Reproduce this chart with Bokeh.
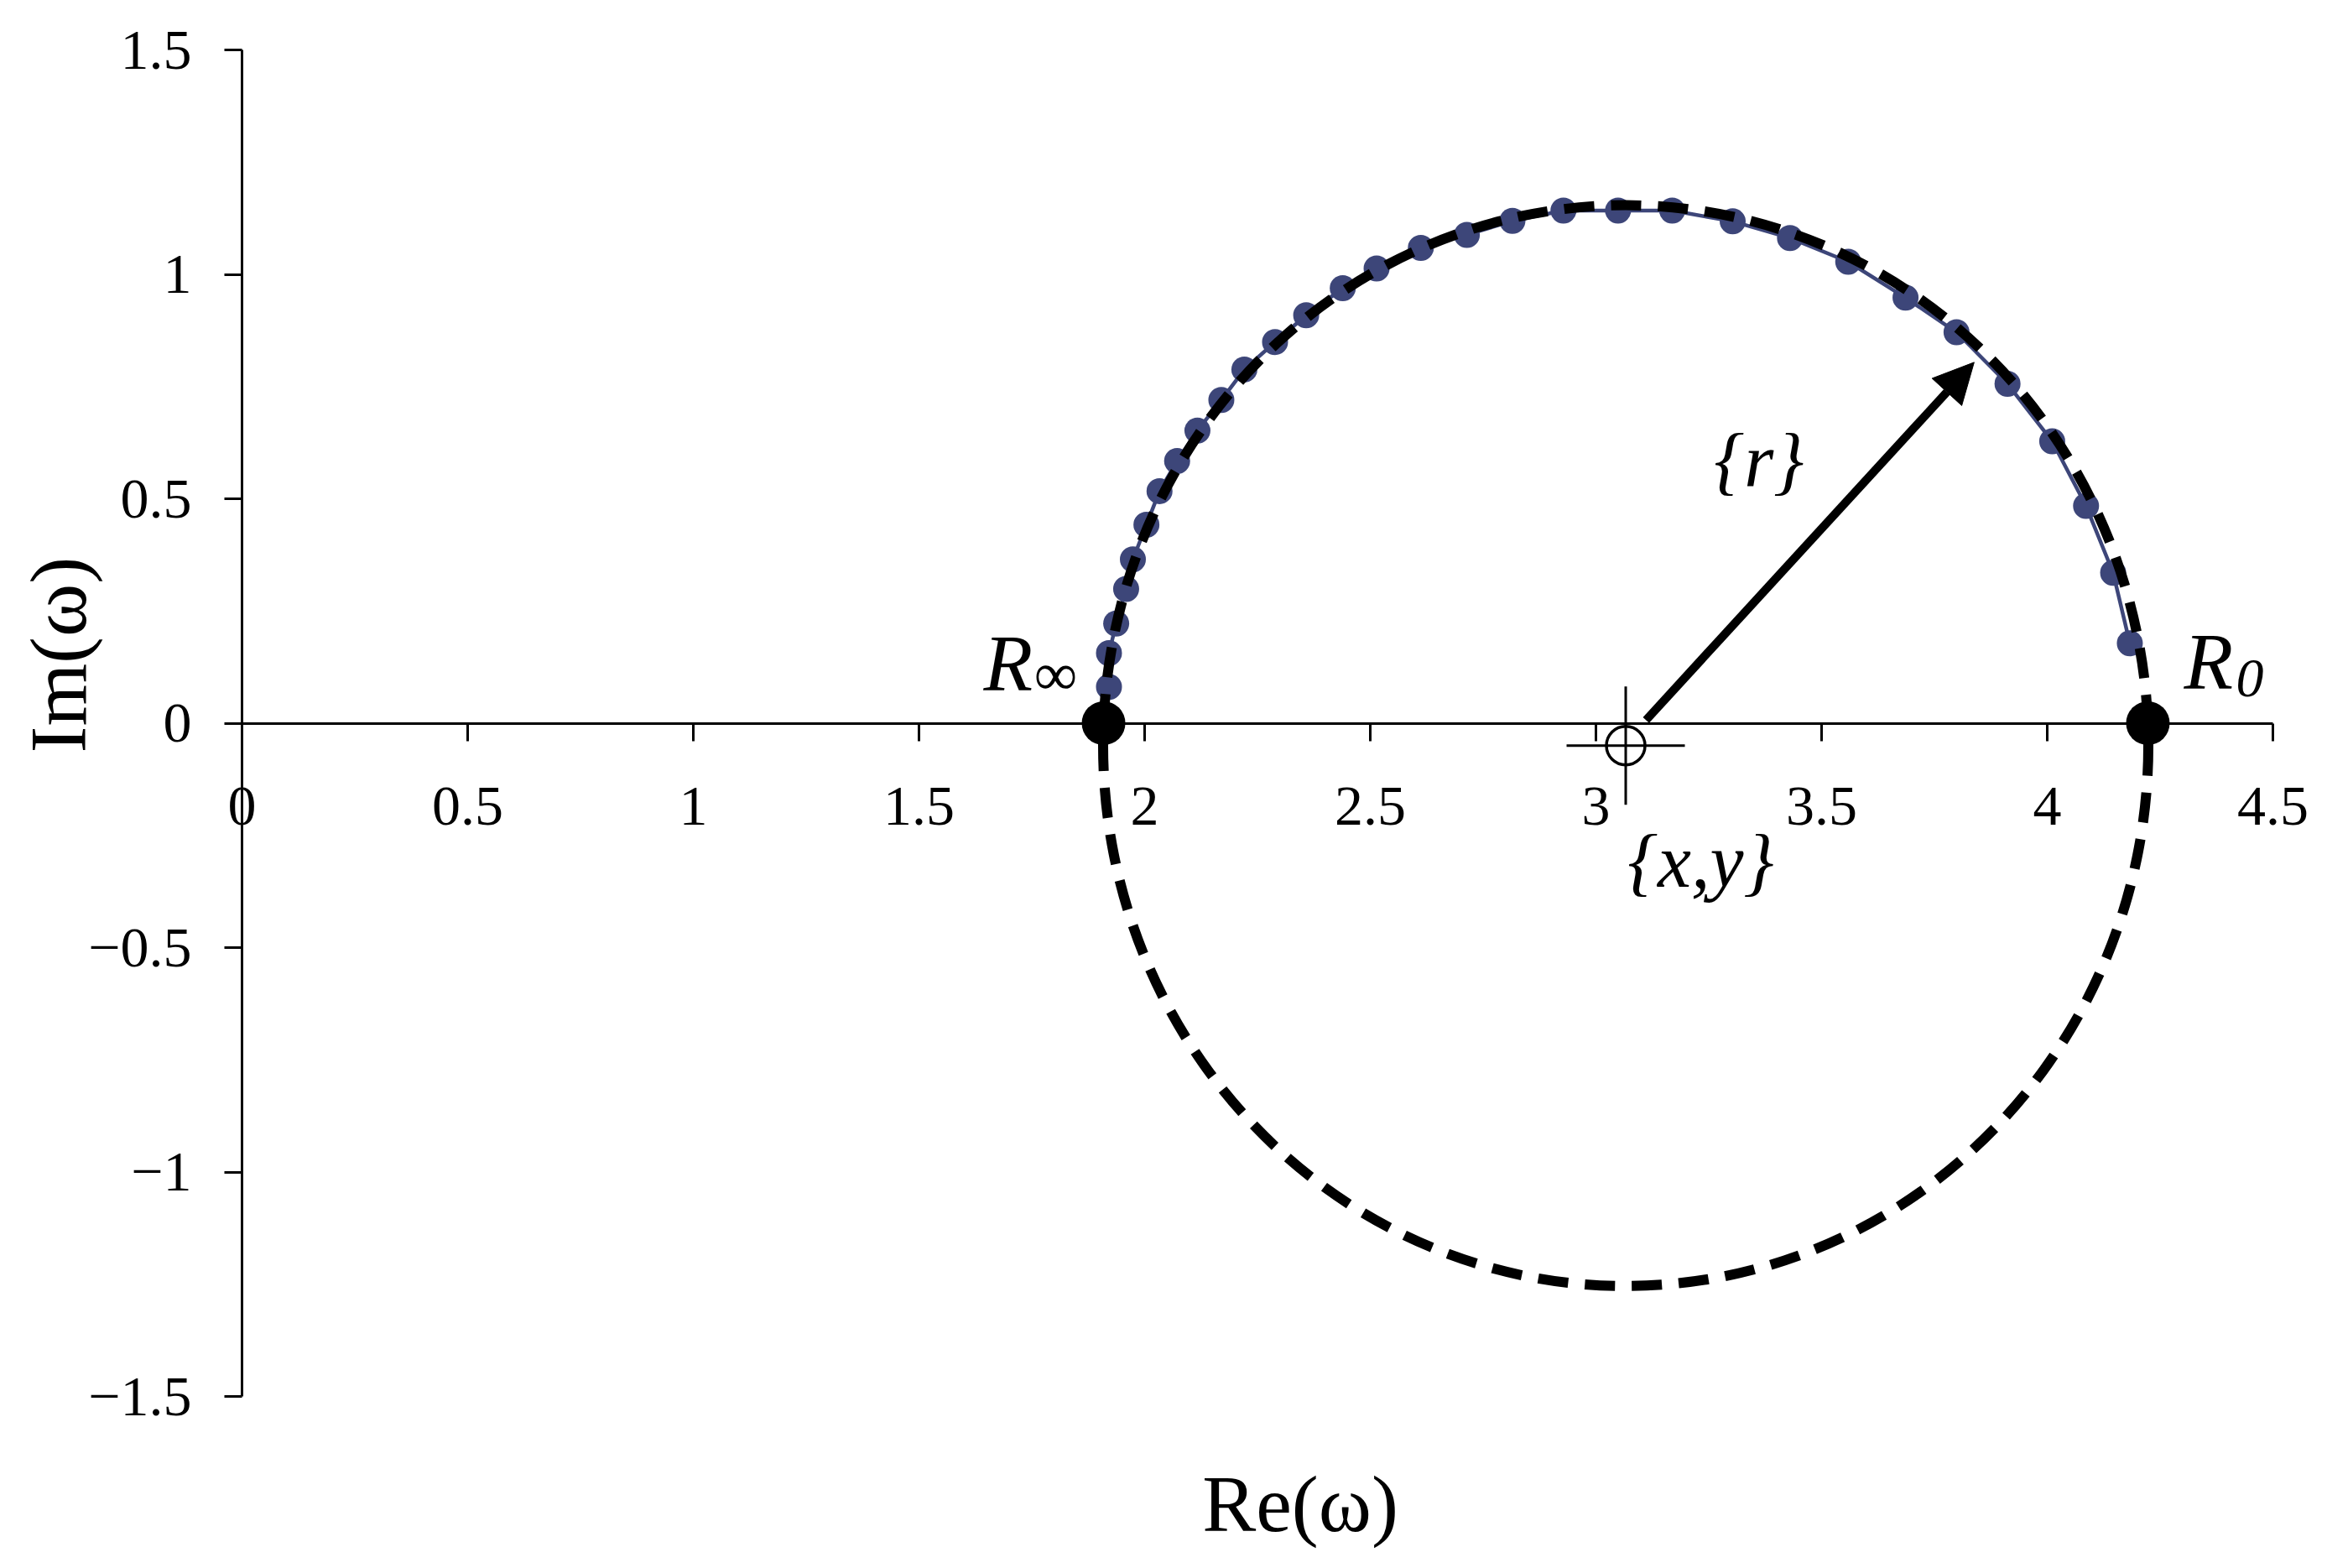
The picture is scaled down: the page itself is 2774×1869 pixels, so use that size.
import math
from bokeh.plotting import figure
from bokeh.models import Range1d, FixedTicker, Label, Arrow, NormalHead
from bokeh.embed import file_html
from bokeh.resources import INLINE

# ---- data ----
re_data = [1.921, 1.921, 1.937, 1.959, 1.974, 2.004, 2.033, 2.072, 2.117, 2.170,
           2.221, 2.289, 2.358, 2.439, 2.514, 2.612, 2.714, 2.815, 2.928, 3.049,
           3.169, 3.303, 3.430, 3.559, 3.686, 3.799, 3.912, 4.011, 4.086, 4.146, 4.183]
im_data = [0.081, 0.156, 0.222, 0.299, 0.365, 0.442, 0.517, 0.584, 0.652, 0.720,
           0.788, 0.849, 0.909, 0.969, 1.013, 1.059, 1.088, 1.119, 1.142, 1.142,
           1.142, 1.118, 1.081, 1.028, 0.948, 0.871, 0.756, 0.628, 0.484, 0.335, 0.178]

r_points_x = [1.909, 4.223]   # R_inf, R_0
r_points_y = [0.0, 0.0]

fit_center_x = [3.066]
fit_center_y = [-0.050]
fit_width = [2.316]
fit_height = [2.408]

radius_start = [3.111, 0.007]
radius_end = [3.838, 0.804]

x_ticks = [0, 0.5, 1, 1.5, 2, 2.5, 3, 3.5, 4, 4.5]
x_tick_labels = ["0", "0.5", "1", "1.5", "2", "2.5", "3", "3.5", "4", "4.5"]
y_ticks = [-1.5, -1, -0.5, 0, 0.5, 1, 1.5]
y_tick_labels = ["\u22121.5", "\u22121", "\u22120.5", "0", "0.5", "1", "1.5"]

BLUE = "#3D4679"
FONT = "Liberation Serif"

W, H = 2770, 1865
# pixel layout of the reference: x=0 at 288px (538 px/unit), y=0 at 861.5px (535 px/unit)
X0, XS, Y0, YS = 288.0, 538.0, 861.5, 535.0

p = figure(width=W, height=H,
           x_range=Range1d(-X0 / XS, (W - X0) / XS),
           y_range=Range1d((Y0 - H) / YS, Y0 / YS),
           output_backend="svg", toolbar_location=None,
           min_border=0)
p.grid.visible = False
p.outline_line_color = None
p.background_fill_color = "white"
p.border_fill_color = "white"

for ax in (p.xaxis[0], p.yaxis[0]):
    ax.axis_line_width = 3
    ax.axis_line_color = "black"
    ax.major_tick_line_width = 3
    ax.major_tick_line_color = "black"
    ax.major_tick_out = 21
    ax.major_tick_in = 0
    ax.minor_tick_line_color = None
    ax.major_label_text_font = FONT
    ax.major_label_text_font_size = "68px"
    ax.major_label_text_color = "black"

p.xaxis.fixed_location = 0
p.xaxis.bounds = (0, 4.5)
p.xaxis.ticker = FixedTicker(ticks=x_ticks)
p.xaxis.major_label_overrides = {float(k): v for k, v in zip(x_ticks, x_tick_labels)}
p.xaxis.major_label_standoff = 56

p.yaxis.fixed_location = 0
p.yaxis.bounds = (-1.5, 1.5)
p.yaxis.ticker = FixedTicker(ticks=y_ticks)
p.yaxis.major_label_overrides = {float(k): v for k, v in zip(y_ticks, y_tick_labels)}
p.yaxis.major_label_standoff = 39

# measured data: line + markers
p.line(re_data, im_data, line_color=BLUE, line_width=4.5)
p.scatter(re_data, im_data, size=31, fill_color=BLUE, line_color=None)

# fitted circle (dashed)
p.ellipse(x=fit_center_x, y=fit_center_y, width=fit_width, height=fit_height,
          fill_color=None, line_color="black", line_width=12, line_dash="36 20")

# R_inf and R_0
p.scatter(r_points_x, r_points_y, size=52, fill_color="black", line_color=None)

# centre marker
p.scatter(fit_center_x, fit_center_y, marker="circle", size=46,
          fill_color=None, line_color="black", line_width=3.5)
p.scatter(fit_center_x, fit_center_y, marker="cross", size=141,
          line_color="black", line_width=3)

# radius arrow
p.add_layout(Arrow(end=NormalHead(size=48, fill_color="black", line_color="black"),
                   x_start=radius_start[0], y_start=radius_start[1],
                   x_end=radius_end[0], y_end=radius_end[1],
                   line_width=10, line_color="black"))


def lab(x, y, text, size, italic=False, align="left", angle=0.0):
    p.add_layout(Label(x=x, y=y, text=text, text_font=FONT,
                       text_font_size=f"{size}px",
                       text_font_style="italic" if italic else "normal",
                       text_align=align, text_baseline="alphabetic",
                       text_color="black", angle=angle))


lab(3.361, 0.586, "{r}", 90, italic=True, align="center")
lab(3.232, -0.308, "{x,y}", 90, italic=True, align="center")
lab(1.643, 0.133, "R", 96, italic=True)
lab(1.755, 0.108, "\u221e", 72)
lab(4.303, 0.138, "R", 96, italic=True)
lab(4.418, 0.100, "0", 66, italic=True)

# axis titles
lab(2.345, -1.740, "Re(\u03c9)", 96, align="center")
lab(-0.407, 0.152, "Im(\u03c9)", 96, align="center", angle=math.pi / 2)

open("out.html", "w").write(file_html(p, INLINE))
